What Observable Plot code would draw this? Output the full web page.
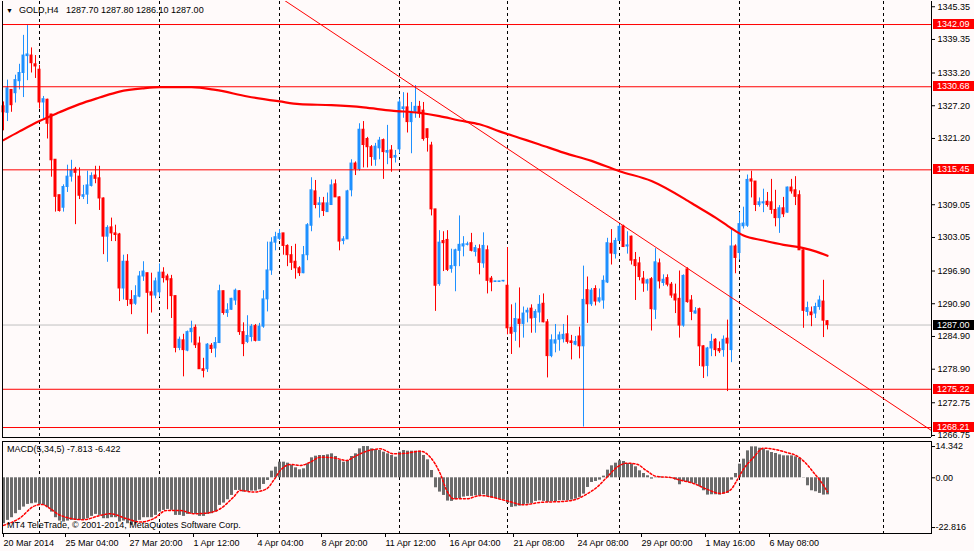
<!DOCTYPE html>
<html><head><meta charset="utf-8">
<script src="https://cdn.jsdelivr.net/npm/d3@7"></script>
<script src="https://cdn.jsdelivr.net/npm/@observablehq/plot@0.6"></script>
<style>
html,body{margin:0;padding:0;background:#fffafa;}
#chart{position:relative;width:974px;height:551px;overflow:hidden;background:#fffafa;font-family:"Liberation Sans",Arial,sans-serif;}
#chart svg{position:absolute;left:0;overflow:visible;}
.lbl{position:absolute;font-size:9px;line-height:11px;color:#000;white-space:pre;}
</style></head><body><div id="chart"></div>
<script>
const symbol = "GOLD", timeframe = "H4";
const open = [1327.1,1325.9,1330.1,1329.5,1331.7,1333.2,1336.3,1336.4,1334.8,1333.8,
1327.8,1328.3,1325.6,1317.3,1310.8,1308.5,1312.3,1314.2,1315.5,1314.2,
1310.5,1310.9,1312.5,1314.4,1313.9,1310.2,1303.2,1304.9,1303.8,1303.6,
1293.7,1298.6,1291.6,1290.9,1292.2,1295.9,1296.5,1293.0,1292.4,1293.0,
1296.6,1295.9,1295.4,1292.3,1282.8,1284.2,1282.3,1285.7,1286.5,1283.6,
1278.9,1278.9,1283.2,1282.7,1283.7,1293.2,1289.2,1289.8,1291.5,1293.2,
1285.7,1283.9,1284.8,1286.8,1284.1,1286.7,1291.7,1297.0,1302.1,1302.8,
1303.8,1301.5,1299.8,1298.6,1297.4,1296.5,1299.8,1305.2,1311.5,1309.0,
1309.3,1307.7,1309.0,1312.8,1310.4,1302.4,1302.7,1311.7,1316.6,1315.6,
1322.8,1321.1,1319.6,1317.3,1319.4,1320.9,1318.6,1319.0,1317.7,1319.2,
1326.6,1326.9,1324.2,1326.1,1327.0,1326.3,1322.9,1319.9,1308.2,1294.5,
1302.4,1302.6,1297.3,1297.8,1300.6,1301.4,1301.7,1302.0,1300.4,1300.9,
1298.3,1300.7,1295.5,1294.9,1294.9,1295.0,1294.2,1286.5,1285.7,1288.0,
1287.2,1289.3,1290.0,1288.3,1289.3,1290.9,1287.5,1281.3,1283.6,1284.3,
1284.4,1285.3,1284.0,1283.4,1284.9,1283.1,1293.4,1290.8,1293.6,1291.3,
1291.5,1294.8,1301.9,1300.0,1302.4,1305.1,1301.4,1303.2,1298.9,1298.3,
1295.5,1294.6,1295.4,1289.8,1298.3,1294.7,1295.6,1294.4,1292.6,1291.8,
1286.9,1297.2,1291.5,1289.1,1289.9,1283.1,1279.5,1282.7,1284.3,1282.6,
1282.4,1284.5,1282.4,1301.4,1300.2,1305.1,1305.2,1313.7,1313.3,1309.0,
1309.3,1309.6,1309.5,1308.1,1306.6,1308.4,1307.6,1312.2,1311.7,1310.8,
1300.7,1289.4,1289.3,1289.1,1290.3,1291.3,1287.7];
const high = [1327.9,1331.9,1330.1,1332.8,1334.8,1340.1,1341.9,1337.8,1336.4,1334.6,
1328.9,1328.4,1325.6,1317.3,1310.8,1312.7,1316.3,1317.2,1315.9,1315.8,
1312.6,1315.2,1314.9,1316.1,1316.1,1310.3,1305.2,1306.6,1305.3,1303.8,
1299.8,1299.9,1293.3,1294.2,1296.8,1298.6,1296.5,1296.5,1295.6,1298.2,
1297.5,1296.3,1296.1,1292.3,1284.8,1285.3,1285.9,1287.7,1287.0,1284.8,
1280.9,1283.6,1283.6,1284.7,1294.3,1293.2,1290.9,1291.9,1293.6,1293.3,
1287.4,1288.7,1287.1,1287.1,1287.3,1293.3,1302.2,1303.0,1304.0,1304.5,
1303.8,1301.7,1301.4,1301.8,1297.7,1301.4,1305.6,1314.0,1313.5,1310.4,
1310.4,1311.2,1313.6,1313.6,1310.5,1303.2,1311.7,1317.3,1316.9,1323.9,
1324.3,1321.4,1319.9,1320.3,1321.4,1321.1,1323.6,1319.9,1319.0,1328.4,
1329.6,1329.5,1327.8,1330.9,1328.0,1327.8,1322.9,1320.5,1308.2,1304.3,
1304.1,1304.3,1300.9,1300.9,1307.0,1303.2,1302.2,1303.8,1301.6,1301.7,
1303.9,1301.5,1295.9,1295.0,1295.0,1295.1,1301.2,1290.7,1291.0,1293.8,
1290.3,1290.1,1290.7,1289.8,1292.4,1292.7,1288.0,1285.2,1287.1,1285.7,
1287.1,1288.7,1285.1,1284.9,1286.6,1297.8,1295.8,1293.7,1294.2,1293.6,
1296.0,1302.9,1304.5,1302.9,1305.4,1305.3,1304.1,1303.3,1300.3,1299.4,
1296.8,1295.4,1295.7,1301.0,1299.1,1296.2,1296.2,1294.8,1294.5,1296.9,
1296.2,1297.5,1292.4,1290.2,1290.1,1283.2,1282.9,1285.3,1284.5,1283.9,
1285.0,1287.9,1304.6,1301.7,1307.6,1308.6,1314.5,1315.2,1313.3,1310.3,
1311.9,1311.3,1313.7,1311.7,1308.9,1310.4,1312.3,1313.7,1314.2,1311.6,
1300.8,1291.2,1290.3,1291.0,1292.3,1295.2,1287.8];
const low = [1322.6,1324.3,1326.0,1327.7,1330.1,1328.7,1331.8,1333.2,1332.2,1326.6,
1324.8,1321.1,1314.1,1307.7,1307.7,1307.7,1311.3,1313.2,1305.4,1310.0,
1310.0,1309.1,1312.3,1312.9,1308.0,1299.9,1298.5,1302.3,1302.3,1291.3,
1291.6,1290.4,1288.9,1290.6,1292.0,1295.0,1285.3,1289.2,1291.8,1292.1,
1294.7,1289.8,1288.2,1281.9,1282.3,1277.5,1282.1,1283.7,1282.7,1278.9,
1277.3,1278.3,1281.8,1281.0,1283.6,1288.8,1288.4,1289.7,1290.6,1285.1,
1281.2,1283.6,1283.9,1283.9,1284.1,1286.4,1289.4,1296.1,1300.6,1302.5,
1299.8,1297.7,1297.0,1295.4,1295.9,1296.4,1298.8,1304.1,1308.3,1306.6,
1306.9,1307.7,1309.0,1310.4,1300.6,1301.7,1302.7,1310.5,1314.4,1315.2,
1315.8,1315.8,1316.1,1316.1,1317.3,1313.7,1316.4,1315.0,1316.7,1318.4,
1324.9,1322.2,1318.4,1324.9,1324.9,1320.7,1318.7,1307.0,1289.5,1294.1,
1296.8,1296.8,1296.5,1293.1,1297.7,1299.5,1301.5,1300.4,1299.5,1296.2,
1297.4,1292.7,1293.1,1294.8,1294.8,1294.9,1285.2,1281.6,1284.0,1282.8,
1284.6,1287.4,1285.5,1285.5,1287.4,1287.4,1277.3,1281.0,1281.9,1282.2,
1283.7,1283.5,1280.6,1283.2,1280.8,1268.3,1287.3,1290.4,1290.5,1291.0,
1289.9,1294.6,1298.0,1299.1,1302.4,1301.2,1300.0,1298.0,1291.5,1295.1,
1293.0,1293.2,1285.9,1288.0,1293.6,1294.1,1294.0,1291.9,1289.1,1284.6,
1286.6,1291.0,1287.8,1289.0,1279.4,1277.2,1277.5,1281.2,1281.2,1281.8,
1281.1,1274.8,1280.1,1296.4,1298.9,1304.6,1304.9,1310.3,1307.8,1308.6,
1307.6,1308.6,1307.3,1305.0,1303.8,1306.7,1307.5,1311.0,1308.9,1300.7,
1286.4,1288.6,1286.7,1288.2,1289.7,1284.7,1286.1];
const close = [1326.0,1330.4,1327.3,1331.9,1333.2,1336.4,1336.6,1335.0,1334.4,1327.8,
1328.4,1323.9,1317.2,1310.5,1307.9,1312.3,1314.2,1315.3,1314.9,1310.7,
1310.8,1312.6,1314.3,1313.8,1310.2,1303.2,1304.8,1303.8,1303.5,1293.7,
1298.6,1291.6,1290.8,1292.3,1295.9,1296.8,1292.9,1292.4,1295.0,1296.6,
1295.6,1295.2,1292.3,1282.8,1284.3,1282.4,1285.7,1286.3,1283.3,1278.9,
1278.6,1283.4,1282.6,1283.7,1293.2,1289.2,1289.7,1291.8,1293.3,1285.7,
1283.5,1285.0,1286.7,1284.1,1286.7,1291.7,1297.0,1302.1,1303.1,1303.7,
1301.5,1299.8,1298.4,1297.4,1296.5,1299.8,1305.3,1311.7,1309.0,1309.3,
1307.9,1309.3,1312.6,1310.4,1302.3,1302.7,1311.5,1316.6,1315.6,1322.8,
1320.0,1319.6,1317.8,1319.7,1320.8,1318.7,1318.9,1317.6,1318.0,1327.8,
1326.9,1324.2,1326.1,1327.0,1326.0,1321.1,1321.3,1308.2,1294.2,1302.1,
1302.0,1297.1,1297.8,1300.7,1301.7,1301.8,1301.8,1300.6,1301.1,1298.4,
1301.5,1295.1,1294.8,1295.0,1295.0,1295.1,1286.4,1285.4,1288.1,1287.2,
1289.1,1289.6,1288.2,1289.4,1290.7,1287.5,1281.3,1284.2,1284.2,1285.1,
1285.2,1283.9,1283.7,1283.9,1283.1,1291.6,1290.8,1293.3,1291.3,1291.9,
1295.1,1302.0,1300.1,1302.4,1305.0,1301.3,1301.6,1298.8,1297.8,1295.8,
1294.6,1295.2,1289.9,1298.5,1295.0,1295.3,1294.4,1292.4,1291.5,1286.9,
1296.0,1291.2,1289.4,1289.5,1283.1,1279.4,1282.7,1283.9,1282.4,1282.2,
1284.3,1283.6,1301.4,1299.3,1305.5,1305.6,1313.6,1313.3,1309.0,1309.5,
1309.5,1309.0,1308.1,1306.6,1308.4,1307.3,1312.2,1311.5,1310.5,1300.7,
1289.6,1290.1,1288.8,1290.3,1291.5,1287.8,1287.0];
const headerOHLC = [1287.70, 1287.80, 1286.10, 1287.00];

// moving average (read at sample bars)
const maIdx = [0,4,9,14,19,24,29,35,39,47,53,61,69,74,82,90,97,104,109,114,119,124,129,134,140,147,154,162,171,173,178,182,185,190,195,200,203,206];
const maVal = [1320.9,1322.5,1324.4,1326.0,1327.5,1328.7,1329.8,1330.4,1330.6,1330.6,1330.1,1328.9,1328.0,1327.5,1327.3,1326.9,1326.3,1325.9,1325.3,1324.5,1323.8,1322.5,1321.3,1320.1,1318.6,1317.1,1315.2,1313.4,1309.8,1308.9,1306.7,1304.7,1303.4,1302.5,1301.7,1301.1,1300.5,1299.7];

// horizontal levels, bid line, trend line
const levels = [1342.09, 1330.68, 1315.45, 1275.22, 1268.21];
const bid = 1287.00;
const trendIdx = [70.3, 231.9];
const trendPrice = [1346.49, 1267.70];

// price axis ticks
const priceTicks = [1345.35,1339.35,1333.20,1327.20,1321.20,1309.05,1303.05,1296.90,1290.90,1284.90,1278.90,1272.75,1266.75];

// MACD(5,34,5)
const macd = [-21.06,-19.53,-18.31,-16.48,-14.95,-13.43,-12.21,-11.90,-11.60,-12.21,
-12.67,-13.73,-15.72,-18.31,-19.84,-20.30,-19.84,-19.53,-19.53,-19.53,
-19.23,-18.77,-17.70,-16.79,-17.24,-18.77,-18.77,-18.31,-18.31,-20.30,
-19.84,-21.06,-21.82,-21.06,-19.53,-18.31,-18.31,-18.31,-17.24,-15.72,
-14.95,-14.50,-14.95,-17.24,-17.24,-17.70,-16.79,-16.48,-16.79,-17.70,
-17.70,-16.79,-16.48,-15.72,-12.67,-11.60,-10.07,-8.09,-5.80,-5.80,
-6.56,-6.26,-6.10,-6.10,-5.49,-3.05,-1.22,3.05,4.88,7.17,
7.17,6.71,5.65,4.58,3.66,4.12,6.41,9.16,9.92,10.22,
10.22,10.53,10.99,9.77,7.94,7.17,7.94,9.77,10.99,13.28,
14.34,14.34,13.28,12.97,12.51,11.75,10.99,10.22,9.46,11.75,
12.51,12.21,12.21,12.21,12.21,10.22,8.24,3.36,-4.58,-6.56,
-8.09,-10.68,-10.83,-10.07,-9.61,-8.85,-8.55,-8.55,-8.24,-8.24,
-7.78,-8.55,-9.31,-9.46,-9.77,-10.07,-11.75,-13.58,-13.28,-12.97,
-12.36,-12.06,-11.75,-10.83,-10.53,-10.83,-11.29,-10.99,-10.99,-10.53,
-10.53,-10.53,-10.22,-9.77,-9.00,-7.48,-4.43,-2.14,-1.68,-1.07,
0.76,3.51,5.49,6.71,7.78,7.48,6.56,6.26,5.04,3.20,
1.98,0.92,-0.61,0.15,0.46,0.15,-0.15,-0.31,-1.07,-3.20,
-1.68,-2.14,-2.59,-2.90,-4.12,-5.95,-7.94,-7.78,-7.78,-7.94,
-7.48,-7.17,-1.07,1.98,6.26,8.55,12.36,14.19,14.19,13.58,
13.12,12.36,11.60,11.14,10.53,10.07,10.07,10.07,9.61,9.00,
0.15,-3.66,-5.95,-6.41,-7.17,-7.94,-7.813];
const sigIdx = [0,4.2,7.5,9.6,11.7,14.2,20,24.2,26.7,30.8,34.2,37.5,40.8,44.2,47.5,50.8,54.2,57.5,59.2,62.5,65.8,67.5,69.2,71.7,74.2,76.7,79.2,82.5,85.8,87.5,90.8,94.2,97.5,100.8,104.2,106.7,109.2,110.8,112.5,115.8,119.2,125.8,130,134.2,140,143.3,145.8,148.3,150.8,153.3,155.8,158.3,160.8,163.3,166.7,169.2,172.5,175.8,179.2,181.7,183.3,185,187.5,190,192.5,195.8,198.3,200.8,202.5,204.2,206];
const sigVal = [-21.82,-18.31,-13.12,-12.21,-14.19,-17.24,-19.23,-17.24,-16.48,-18.77,-20.30,-18.77,-14.95,-14.95,-16.48,-16.18,-14.19,-8.85,-5.80,-6.56,-5.04,-1.22,3.36,6.10,5.65,7.17,9.46,9.16,7.94,9.46,12.21,13.28,10.99,11.29,12.21,9.46,1.83,-5.80,-9.61,-9.61,-8.16,-10.53,-12.36,-11.29,-10.83,-9.77,-7.48,-4.43,0.15,4.73,6.71,6.26,3.20,0.61,0.15,-1.07,-2.59,-5.19,-7.17,-5.65,-1.37,3.97,9.31,13.58,13.12,11.60,10.07,6.26,2.44,-1.37,-6.422];
const macdTicks = [14.342, 0, -22.816];
const macdTickLabels = ["14.342", "0.00", "-22.816"];

// time axis
const dateIdx = [0,15.5,31.5,47.5,63.5,79.5,95.5,111.5,127.5,143.5,159.5,175.5,191.5];
const dateLabels = ["20 Mar 2014","25 Mar 04:00","27 Mar 20:00","1 Apr 12:00","4 Apr 04:00","8 Apr 20:00","11 Apr 12:00","16 Apr 04:00","21 Apr 08:00","24 Apr 08:00","29 Apr 00:00","1 May 16:00","6 May 08:00"];
const gridIdx = [9, 39, 69, 99, 126, 154, 184, 220];

// ---------- build ----------
const BLUE = "#1e90ff", RED = "#ff0000", GRAY = "#6b6b6b", FONT = "'Liberation Sans', Arial, sans-serif";
const candles = close.map((c, i) => ({i, o: open[i], h: high[i], l: low[i], c}));
const up = candles.filter(d => d.c >= d.o), dn = candles.filter(d => d.c < d.o);
const ma = maIdx.map((i, k) => ({i, v: maVal[k]}));
const trend = trendIdx.map((i, k) => ({i, v: trendPrice[k]}));
const macdData = macd.map((v, i) => ({i, v}));
const sigData = sigIdx.map((i, k) => ({i, v: sigVal[k]}));
const xDomain = [-0.25, 232];
const yDomain = [1266.38, 1346.31];
const style = {background: "transparent", fontFamily: FONT, fontSize: "9px", color: "#000"};

const bodyOpts = {x1: d => d.i - 0.375, x2: d => d.i + 0.375, y1: "o", y2: "c", insetTop: -0.5, insetBottom: -0.5};

const main = Plot.plot({
  width: 974, height: 441, marginLeft: 2, marginRight: 43, marginTop: 1, marginBottom: 4,
  style,
  x: {domain: xDomain, axis: null},
  y: {domain: yDomain},
  marks: [
    Plot.ruleX(gridIdx, {stroke: "#000", strokeDasharray: "3,3"}),
    Plot.ruleY([bid], {stroke: "#c0c0c0"}),
    Plot.ruleX(up, {x: "i", y1: "l", y2: "h", stroke: BLUE}),
    Plot.ruleX(dn, {x: "i", y1: "l", y2: "h", stroke: RED}),
    Plot.rect(up, {...bodyOpts, fill: BLUE}),
    Plot.rect(dn, {...bodyOpts, fill: RED}),
    Plot.line(ma, {x: "i", y: "v", stroke: RED, strokeWidth: 2.2, curve: "monotone-x"}),
    Plot.ruleY(levels, {stroke: RED}),
    Plot.line(trend, {x: "i", y: "v", stroke: RED, strokeWidth: 1, clip: true}),
    Plot.ruleX([xDomain[0], xDomain[1]], {stroke: "#000"}),
    Plot.ruleY([yDomain[0]], {stroke: "#000"}),
    Plot.axisY(priceTicks, {anchor: "right", label: null, tickSize: 3, tickPadding: 3, tickFormat: d => d.toFixed(2)})
  ]
});
main.style.top = "0px";

const macdPlot = Plot.plot({
  width: 974, height: 111, marginLeft: 2, marginRight: 43, marginTop: 1, marginBottom: 18,
  style,
  x: {domain: xDomain},
  y: {domain: [-25.55, 16.65]},
  marks: [
    Plot.ruleX(gridIdx, {stroke: "#000", strokeDasharray: "3,3"}),
    Plot.ruleX(macdData, {x: "i", y1: 0, y2: "v", stroke: GRAY, strokeWidth: 3}),
    Plot.line(sigData, {x: "i", y: "v", stroke: RED, strokeDasharray: "2,2", curve: "monotone-x"}),
    Plot.frame({stroke: "#000"}),
    Plot.axisY(macdTicks, {anchor: "right", label: null, tickSize: 3, tickPadding: 1, tickFormat: d => macdTickLabels[macdTicks.indexOf(d)]}),
    Plot.axisX(dateIdx, {anchor: "bottom", label: null, tickSize: 4, tickPadding: 2, textAnchor: "start", tickFormat: d => dateLabels[dateIdx.indexOf(d)]})
  ]
});
macdPlot.style.top = "440px";

const chart = document.getElementById("chart");
chart.appendChild(main);
chart.appendChild(macdPlot);

// value boxes on the price axis
function boxes(plot, values, fill) {
  const y = plot.scale("y");
  const g = d3.select(plot).append("g").attr("font-family", FONT).attr("font-size", 9).attr("text-anchor", "start");
  values.forEach(v => {
    const yy = Math.round(y.apply(v));
    g.append("rect").attr("x", 933).attr("y", yy - 5).attr("width", 41).attr("height", 10).attr("fill", fill);
    g.append("text").attr("x", 937).attr("y", yy).attr("dy", "0.35em").attr("text-anchor", "start").attr("fill", "#fff").text(v.toFixed(2));
  });
}
boxes(main, levels, RED);
boxes(main, [bid], "#000");

// text overlays
function label(text, left, top, extra) {
  const d = document.createElement("div");
  d.className = "lbl";
  d.style.left = left + "px"; d.style.top = top + "px";
  if (extra) Object.assign(d.style, extra);
  d.textContent = text;
  chart.appendChild(d);
  return d;
}
label("▼", 6, 5, {fontSize: "7px"});
label(`${symbol},${timeframe}`, 19, 5);
label(headerOHLC.map(v => v.toFixed(2)).join(" "), 66, 5);
label(`MACD(5,34,5) ${macd[macd.length - 1].toFixed(3)} ${sigVal[sigVal.length - 1].toFixed(3)}`, 7, 444);
label("MT4 TeleTrade, © 2001-2014, MetaQuotes Software Corp.", 7, 520);
</script></body></html>
